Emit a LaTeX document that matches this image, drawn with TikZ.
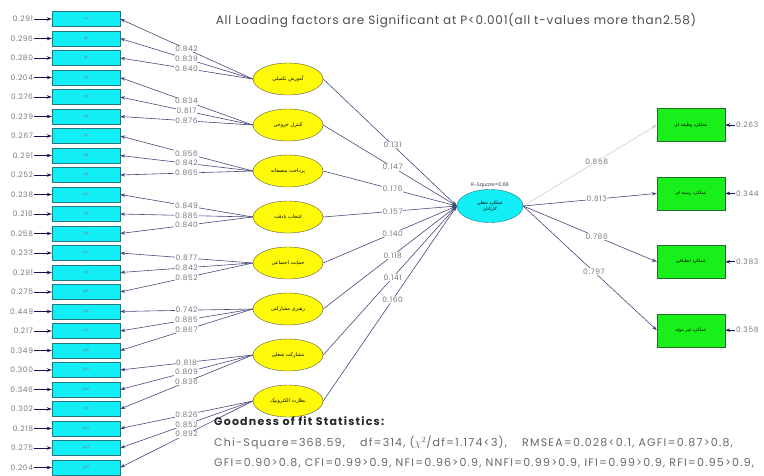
\documentclass[tikz,border=0pt]{standalone}
\usepackage{fontspec}
\setmainfont{Poppins}
\newfontfamily\arabicfont[Script=Arabic]{DejaVu Sans}
\TeXXeTstate=1
\usetikzlibrary{positioning}
\usetikzlibrary{shapes.geometric}
\usetikzlibrary{arrows.meta}

\definecolor{boxcyan}{RGB}{18,238,246}
\definecolor{boxedge}{RGB}{40,120,130}
\definecolor{factyellow}{RGB}{255,250,10}
\definecolor{factedge}{RGB}{90,90,60}
\definecolor{boxgreen}{RGB}{25,240,25}
\definecolor{greenedge}{RGB}{30,110,40}
\definecolor{linecol}{RGB}{70,72,125}
\definecolor{tipcol}{RGB}{20,20,90}
\definecolor{numgray}{RGB}{120,120,125}
\definecolor{faintline}{RGB}{215,200,200}

\newcommand{\fa}[1]{{\arabicfont\beginR #1\endR}}

\begin{document}
\begin{tikzpicture}[x=1pt, y=1pt,
  item/.style={draw=boxedge, fill=boxcyan, minimum width=68pt, minimum height=15pt,
    inner sep=0pt, text=numgray, font=\fontsize{3.5}{4}\selectfont},
  factor/.style={ellipse, draw=factedge, fill=factyellow, minimum width=70pt,
    minimum height=32pt, inner sep=0pt, font=\fontsize{5}{6}\selectfont},
  latent/.style={ellipse, draw=boxedge, fill=boxcyan, minimum width=66pt,
    minimum height=33pt, inner sep=0pt, align=center, font=\fontsize{4.5}{6}\selectfont},
  outcome/.style={draw=greenedge, fill=boxgreen, minimum width=68pt, minimum height=33pt,
    inner sep=0pt, font=\fontsize{4.5}{5}\selectfont},
  val/.style={inner sep=0.6pt, text=numgray,
    font=\fontsize{7.5}{7.5}\selectfont\addfontfeatures{LetterSpace=8}},
  load/.style={val, fill=white, pos=0.5},
  arrow/.style={-{Stealth[length=5pt,width=3.5pt]}, draw=linecol, line width=0.6pt,
    color=tipcol, draw=linecol},
  err/.style={-{Stealth[length=5pt,width=3.5pt]}, draw=tipcol, line width=1pt}
]
\useasboundingbox (0,0) rectangle (764,-475);

% Indicators
\node[item] (x1) at (86,-19) {q1};
\node[item, below=4.1pt of x1] (x2) {q2};
\node[item, below=4.1pt of x2] (x3) {q3};
\node[item, below=4.1pt of x3] (x4) {q4};
\node[item, below=4.1pt of x4] (x5) {q5};
\node[item, below=4.1pt of x5] (x6) {q6};
\node[item, below=4.1pt of x6] (x7) {q7};
\node[item, below=4.1pt of x7] (x8) {q8};
\node[item, below=4.1pt of x8] (x9) {q9};
\node[item, below=4.1pt of x9] (x10) {q10};
\node[item, below=4.1pt of x10] (x11) {q11};
\node[item, below=4.1pt of x11] (x12) {q12};
\node[item, below=4.1pt of x12] (x13) {q13};
\node[item, below=4.1pt of x13] (x14) {q14};
\node[item, below=4.1pt of x14] (x15) {q15};
\node[item, below=4.1pt of x15] (x16) {q16};
\node[item, below=4.1pt of x16] (x17) {q17};
\node[item, below=4.1pt of x17] (x18) {q18};
\node[item, below=4.1pt of x18] (x19) {q19};
\node[item, below=4.1pt of x19] (x20) {q20};
\node[item, below=4.1pt of x20] (x21) {q21};
\node[item, below=4.1pt of x21] (x22) {q22};
\node[item, below=4.1pt of x22] (x23) {q23};
\node[item, below=4.1pt of x23] (x24) {q24};

% Error variances
\node[val, left=18pt of x1] (e1) {0.291};
\node[val, left=18pt of x2] (e2) {0.296};
\node[val, left=18pt of x3] (e3) {0.280};
\node[val, left=18pt of x4] (e4) {0.204};
\node[val, left=18pt of x5] (e5) {0.276};
\node[val, left=18pt of x6] (e6) {0.239};
\node[val, left=18pt of x7] (e7) {0.267};
\node[val, left=18pt of x8] (e8) {0.291};
\node[val, left=18pt of x9] (e9) {0.252};
\node[val, left=18pt of x10] (e10) {0.238};
\node[val, left=18pt of x11] (e11) {0.216};
\node[val, left=18pt of x12] (e12) {0.258};
\node[val, left=18pt of x13] (e13) {0.233};
\node[val, left=18pt of x14] (e14) {0.291};
\node[val, left=18pt of x15] (e15) {0.275};
\node[val, left=18pt of x16] (e16) {0.449};
\node[val, left=18pt of x17] (e17) {0.217};
\node[val, left=18pt of x18] (e18) {0.349};
\node[val, left=18pt of x19] (e19) {0.300};
\node[val, left=18pt of x20] (e20) {0.346};
\node[val, left=18pt of x21] (e21) {0.302};
\node[val, left=18pt of x22] (e22) {0.218};
\node[val, left=18pt of x23] (e23) {0.275};
\node[val, left=18pt of x24] (e24) {0.204};

% Factors
\node[factor] (f1) at (288,-79) {\fa{آموزش تکمیلی}};
\node[factor, below=13.6pt of f1] (f2) {\fa{کنترل خروجی}};
\node[factor, below=13.6pt of f2] (f3) {\fa{پرداخت منصفانه}};
\node[factor, below=13.6pt of f3] (f4) {\fa{انتخاب بادقت}};
\node[factor, below=13.6pt of f4] (f5) {\fa{حمایت اجتماعی}};
\node[factor, below=13.6pt of f5] (f6) {\fa{رهبری مشارکتی}};
\node[factor, below=13.6pt of f6] (f7) {\fa{مشارکت شغلی}};
\node[factor, below=13.6pt of f7] (f8) {\fa{نظارت الکترونیک}};

% Performance and its dimensions
\node[latent] (perf) at (490,-206) {\fa{عملکرد شغلی}\\\fa{کارکنان}};
\node[val, above=0.5pt of perf, text=black!75, font=\fontsize{5}{5}\selectfont] (rsq) {R-Square=0.68};
\node[outcome] (y1) at (691,-125) {\fa{عملکرد وظیفه ای}};
\node[outcome, below=35pt of y1] (y2) {\fa{عملکرد زمینه ای}};
\node[outcome, below=35pt of y2] (y3) {\fa{عملکرد انطباقی}};
\node[outcome, below=35pt of y3] (y4) {\fa{عملکرد غیر مولد}};
\node[val, right=10pt of y1] (r1) {0.263};
\node[val, right=10pt of y2] (r2) {0.344};
\node[val, right=10pt of y3] (r3) {0.383};
\node[val, right=10pt of y4] (r4) {0.358};

% Texts
\node[text=black!70, font=\fontsize{12}{14}\selectfont\addfontfeatures{LetterSpace=6.5}] (title) at (456,-21)
  {All Loading factors are Significant at P<0.001(all t-values more than2.58)};
\node[anchor=north west, inner sep=0pt, text=black!85,
  font=\bfseries\fontsize{11}{13}\selectfont\addfontfeatures{LetterSpace=11}] (gof) at (214,-416)
  {Goodness of fit Statistics:};
\node[anchor=north west, inner sep=0pt, text=black!60,
  font=\fontsize{11}{13}\selectfont\addfontfeatures{LetterSpace=11}] (stat1) at ([yshift=-11pt]gof.south west)
  {Chi-Square=368.59,\quad\ df=314, ($\chi^2$/df=1.174<3),\quad\ RMSEA=0.028<0.1, AGFI=0.87>0.8,};
\node[anchor=north west, inner sep=0pt, text=black!60,
  font=\fontsize{11}{13}\selectfont\addfontfeatures{LetterSpace=11}] (stat2) at ([yshift=-8pt]stat1.south west)
  {GFI=0.90>0.8, CFI=0.99>0.9, NFI=0.96>0.9, NNFI=0.99>0.9, IFI=0.99>0.9, RFI=0.95>0.9,};

% Error arrows
\draw[err] (e1) -- (x1);
\draw[err] (e2) -- (x2);
\draw[err] (e3) -- (x3);
\draw[err] (e4) -- (x4);
\draw[err] (e5) -- (x5);
\draw[err] (e6) -- (x6);
\draw[err] (e7) -- (x7);
\draw[err] (e8) -- (x8);
\draw[err] (e9) -- (x9);
\draw[err] (e10) -- (x10);
\draw[err] (e11) -- (x11);
\draw[err] (e12) -- (x12);
\draw[err] (e13) -- (x13);
\draw[err] (e14) -- (x14);
\draw[err] (e15) -- (x15);
\draw[err] (e16) -- (x16);
\draw[err] (e17) -- (x17);
\draw[err] (e18) -- (x18);
\draw[err] (e19) -- (x19);
\draw[err] (e20) -- (x20);
\draw[err] (e21) -- (x21);
\draw[err] (e22) -- (x22);
\draw[err] (e23) -- (x23);
\draw[err] (e24) -- (x24);
\draw[err] (r1) -- (y1);
\draw[err] (r2) -- (y2);
\draw[err] (r3) -- (y3);
\draw[err] (r4) -- (y4);

% Loadings
\draw[arrow] (f1.west) -- (x1.east) node[load] {0.842};
\draw[arrow] (f1.west) -- (x2.east) node[load] {0.839};
\draw[arrow] (f1.west) -- (x3.east) node[load] {0.840};
\draw[arrow] (f2.west) -- (x4.east) node[load] {0.834};
\draw[arrow] (f2.west) -- (x5.east) node[load] {0.817};
\draw[arrow] (f2.west) -- (x6.east) node[load] {0.876};
\draw[arrow] (f3.west) -- (x7.east) node[load] {0.856};
\draw[arrow] (f3.west) -- (x8.east) node[load] {0.842};
\draw[arrow] (f3.west) -- (x9.east) node[load] {0.865};
\draw[arrow] (f4.west) -- (x10.east) node[load] {0.849};
\draw[arrow] (f4.west) -- (x11.east) node[load] {0.885};
\draw[arrow] (f4.west) -- (x12.east) node[load] {0.840};
\draw[arrow] (f5.west) -- (x13.east) node[load] {0.877};
\draw[arrow] (f5.west) -- (x14.east) node[load] {0.842};
\draw[arrow] (f5.west) -- (x15.east) node[load] {0.852};
\draw[arrow] (f6.west) -- (x16.east) node[load] {0.742};
\draw[arrow] (f6.west) -- (x17.east) node[load] {0.885};
\draw[arrow] (f6.west) -- (x18.east) node[load] {0.867};
\draw[arrow] (f7.west) -- (x19.east) node[load] {0.818};
\draw[arrow] (f7.west) -- (x20.east) node[load] {0.809};
\draw[arrow] (f7.west) -- (x21.east) node[load] {0.836};
\draw[arrow] (f8.west) -- (x22.east) node[load] {0.826};
\draw[arrow] (f8.west) -- (x23.east) node[load] {0.852};
\draw[arrow] (f8.west) -- (x24.east) node[load] {0.892};

% Paths to performance
\draw[arrow] (f1.east) -- (perf.west) node[load, pos=0.52] {0.131};
\draw[arrow] (f2.east) -- (perf.west) node[load, pos=0.52] {0.147};
\draw[arrow] (f3.east) -- (perf.west) node[load, pos=0.52] {0.176};
\draw[arrow] (f4.east) -- (perf.west) node[load, pos=0.52] {0.157};
\draw[arrow] (f5.east) -- (perf.west) node[load, pos=0.52] {0.140};
\draw[arrow] (f6.east) -- (perf.west) node[load, pos=0.52] {0.118};
\draw[arrow] (f7.east) -- (perf.west) node[load, pos=0.52] {0.141};
\draw[arrow] (f8.east) -- (perf.west) node[load, pos=0.52] {0.160};

% Dimensions
\draw[arrow, draw=faintline, color=faintline] (perf.east) -- (y1.west) node[load, pos=0.55] {0.858};
\draw[arrow] (perf.east) -- (y2.west) node[load, pos=0.55] {0.813};
\draw[arrow] (perf.east) -- (y3.west) node[load, pos=0.55] {0.786};
\draw[arrow] (perf.east) -- (y4.west) node[load, pos=0.53] {0.797};
\end{tikzpicture}
\end{document}
